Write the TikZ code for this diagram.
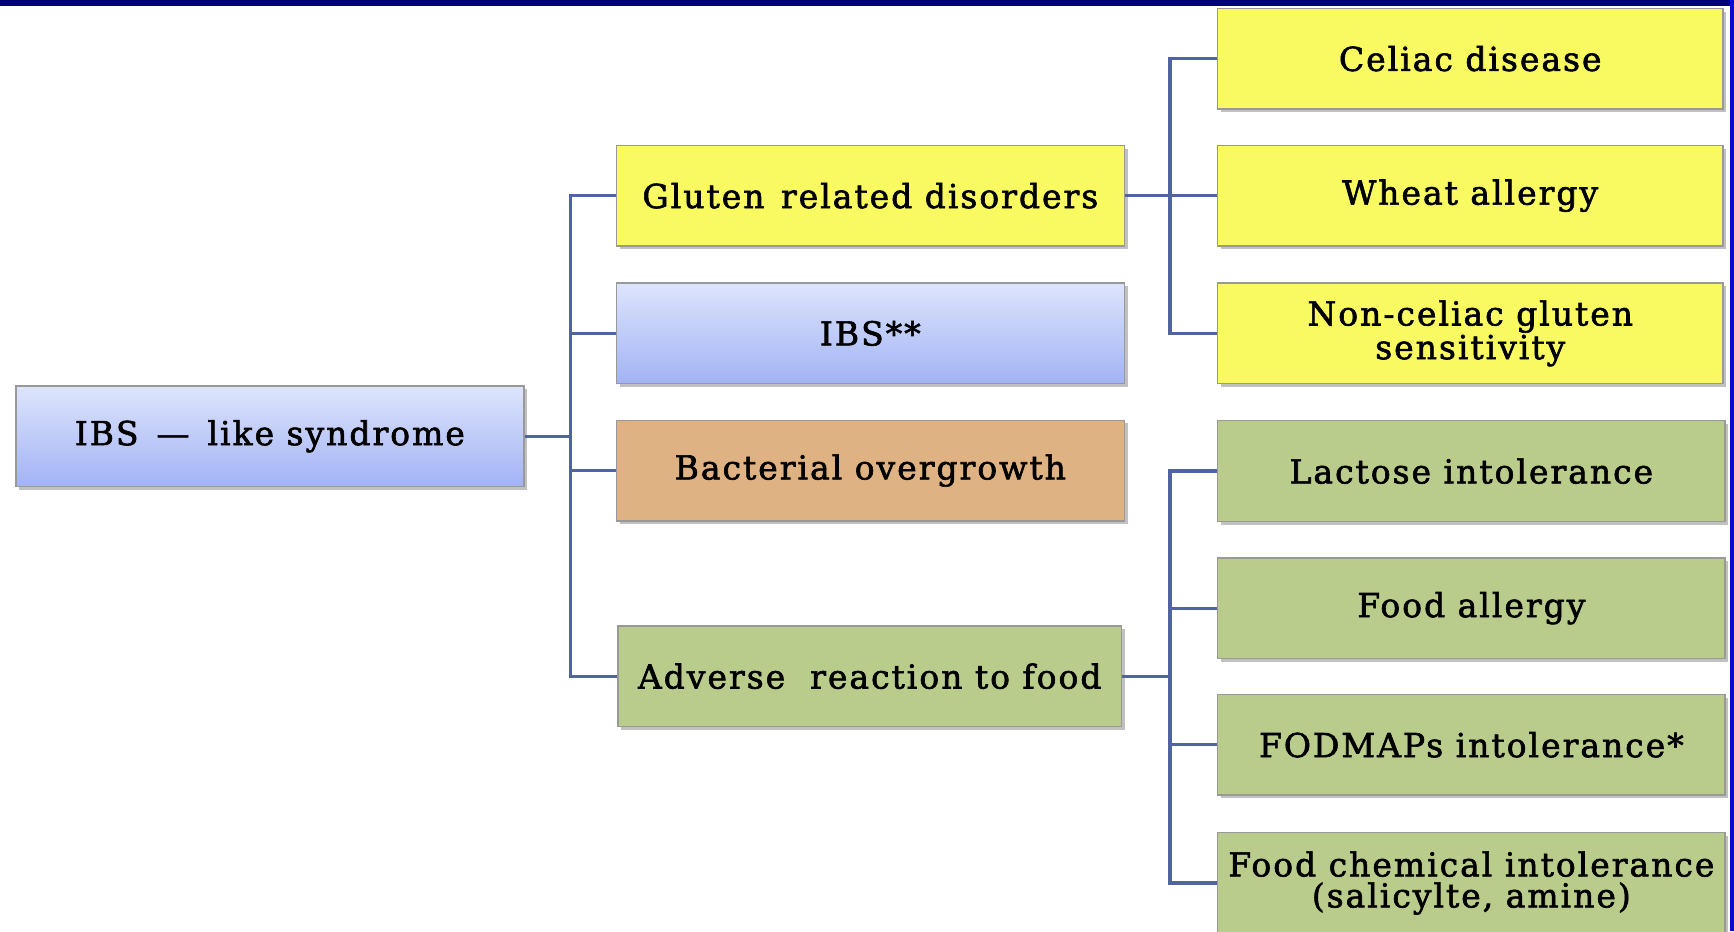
\documentclass[tikz,border=0pt]{standalone}
\usepackage{fontspec}
\setmainfont{DejaVu Serif}[LetterSpace=6, FakeBold=1.8]
\usetikzlibrary{shadows}
\definecolor{navyframe}{HTML}{00007A}
\definecolor{rimblue}{HTML}{0A0ACC}
\definecolor{conn}{HTML}{4F64A0}
\definecolor{yel}{HTML}{F9F961}
\definecolor{tanbox}{HTML}{DEB283}
\definecolor{grn}{HTML}{BACC8C}
\definecolor{bluetop}{HTML}{DDE4FB}
\definecolor{bluebot}{HTML}{A2B3F5}
\begin{document}
\begin{tikzpicture}[x=0.5529pt,y=-0.5529pt,
  box/.style={draw=black!40, line width=0.7pt, minimum width=254pt, minimum height=50.3pt,
    inner sep=0pt, align=center, font=\fontsize{16.5}{15.5}\selectfont,
    drop shadow={shadow xshift=1.6pt, shadow yshift=-1.6pt, opacity=0.4, fill=black!60}},
  yelbox/.style={box, fill=yel},
  bluebox/.style={box, top color=bluetop, bottom color=bluebot},
  tanbx/.style={box, fill=tanbox},
  grnbox/.style={box, fill=grn},
  link/.style={draw=conn, line width=1.6pt}]
\useasboundingbox (0,0) rectangle (1568,842);
\fill[white] (0,0) rectangle (1568,842);

% nodes
\node[bluebox] (root) at (244,394.5) {IBS \,—\, like syndrome};
\node[yelbox] (glu) at (787,177) {Gluten \hspace{0.12em}related disorders};
\node[bluebox] (ibs) at (787,301.5) {IBS**};
\node[tanbx] (bac) at (787,425.5) {Bacterial overgrowth};
\node[grnbox, minimum width=251.6pt] (adv) at (786.5,611.5) {Adverse\ \ reaction to food};
\node[yelbox, minimum width=252.7pt] (cel) at (1329.5,53) {Celiac disease};
\node[yelbox, minimum width=252.7pt] (whe) at (1329.5,177) {Wheat allergy};
\node[yelbox, minimum width=252.7pt] (non) at (1329.5,301.5) {Non-celiac gluten\\sensitivity};
\node[grnbox, minimum width=253.8pt] (lac) at (1330.5,426) {Lactose intolerance};
\node[grnbox, minimum width=253.8pt] (foo) at (1330.5,550) {Food allergy};
\node[grnbox, minimum width=253.8pt] (fod) at (1330.5,673.5) {FODMAPs intolerance*};
\node[grnbox, minimum width=253.8pt] (che) at (1330.5,798.5) {Food chemical intolerance\\(salicylte, amine)};

% trunks
\coordinate (t1) at (516,0);
\coordinate (t2) at (1058,0);

% connectors: root level
\draw[link] (root.east) -- (root.east -| t1);
\draw[link] (glu.west) -- (glu.west -| t1) -- (adv.west -| t1) -- (adv.west);
\draw[link] (ibs.west) -- (ibs.west -| t1);
\draw[link] (bac.west) -- (bac.west -| t1);

% gluten branch
\draw[link] (glu.east) -- (whe.west);
\draw[link] (cel.west) -- (cel.west -| t2) -- (non.west -| t2) -- (non.west);

% adverse branch
\draw[link] (adv.east) -- (adv.east -| t2);
\draw[link] (lac.west) -- (lac.west -| t2) -- (che.west -| t2) -- (che.west);
\draw[link] (foo.west) -- (foo.west -| t2);
\draw[link] (fod.west) -- (fod.west -| t2);

% frame
\fill[navyframe] (0,0) rectangle (1568,5);
\fill[rimblue] (1564,0) rectangle (1568,842);
\end{tikzpicture}
\end{document}
